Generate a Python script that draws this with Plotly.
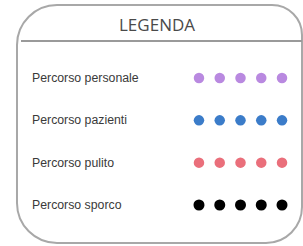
import plotly.graph_objects as go

title = "LEGENDA"
categories = ["Percorso personale", "Percorso pazienti", "Percorso pulito", "Percorso sporco"]
colors = ["#b989e0", "#3b7cc9", "#ea6f7b", "#000000"]
dot_slots = [1, 2, 3, 4, 5]

W, H = 303, 246

fig = go.Figure()

for i, (cat, col) in enumerate(zip(categories, colors)):
    fig.add_trace(go.Scatter(
        x=dot_slots, y=[i] * len(dot_slots),
        mode="markers",
        marker=dict(size=10.5 if col != "#000000" else 11, color=col, line=dict(width=0)),
        xaxis="x2", yaxis="y2", showlegend=False, hoverinfo="skip",
    ))
    fig.add_annotation(
        x=30 / W, y=i, xref="paper", yref="y2",
        text=cat, showarrow=False, xanchor="left", yanchor="middle",
        font=dict(family="Liberation Sans, Arial", size=12.3, color="#3a3a3a"),
    )

# rounded border box (pixel frame on x/y axes), circular-arc corners
L, R, T, B = 17, 302, 5, 243
rtl, rtr, rbr, rbl = 40, 30, 36, 40
k = 0.5523
path = (f"M {L+rtl},{T} L {R-rtr},{T} "
        f"C {R-rtr+k*rtr},{T} {R},{T+rtr-k*rtr} {R},{T+rtr} "
        f"L {R},{B-rbr} "
        f"C {R},{B-rbr+k*rbr} {R-rbr+k*rbr},{B} {R-rbr},{B} "
        f"L {L+rbl},{B} "
        f"C {L+rbl-k*rbl},{B} {L},{B-rbl+k*rbl} {L},{B-rbl} "
        f"L {L},{T+rtl} "
        f"C {L},{T+rtl-k*rtl} {L+rtl-k*rtl},{T} {L+rtl},{T} Z")
fig.add_shape(type="path", path=path, xref="x", yref="y",
              line=dict(color="#a8a8a8", width=2), fillcolor="rgba(0,0,0,0)")
fig.add_shape(type="line", x0=21, x1=R, y0=41, y1=41, xref="x", yref="y",
              line=dict(color="#9a9a9a", width=2))

fig.add_annotation(
    x=157, y=24.5, xref="x", yref="y", text=title, showarrow=False,
    xanchor="center", yanchor="middle",
    font=dict(family="Open Sans", size=17, color="#4a4a4a"),
)

fig.update_layout(
    width=W, height=H,
    margin=dict(l=0, r=0, t=0, b=0),
    paper_bgcolor="white", plot_bgcolor="white",
    xaxis=dict(range=[0, W], visible=False, domain=[0, 1], fixedrange=True),
    yaxis=dict(range=[H, 0], visible=False, domain=[0, 1], fixedrange=True),
    xaxis2=dict(range=[0.5, 5.5], visible=False,
                domain=[188.6 / W, 292.4 / W], anchor="y2"),
    yaxis2=dict(range=[3.5, -0.5], visible=False,
                domain=[(H - 226.15) / H, (H - 56.85) / H], anchor="x2"),
)

fig.write_html("out.html", config={"displayModeBar": False},
               post_script="document.body.style.margin='0px';document.body.style.overflow='hidden';")
